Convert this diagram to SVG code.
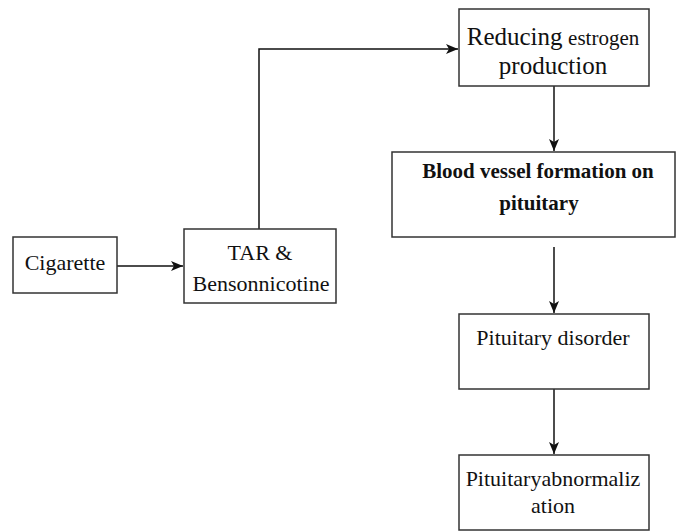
<svg xmlns="http://www.w3.org/2000/svg" width="676" height="532" viewBox="0 0 676 532">
<style>
.box{fill:#fff;stroke:#333;stroke-width:1.5}
.t{font-family:'Liberation Serif','Times New Roman',serif;font-size:22px;fill:#111;text-anchor:middle}
.b{font-weight:bold;font-size:21px}
.c{fill:none;stroke:#111;stroke-width:1.5}
</style>
<defs>
<marker id="ah" viewBox="0 0 12 10" refX="12" refY="5" markerWidth="12" markerHeight="10" markerUnits="userSpaceOnUse" orient="auto">
<path d="M0,0 L12,5 L0,10 L3,5 Z" fill="#111"/>
</marker>
</defs>
<rect width="676" height="532" fill="#fff"/>
<g id="connectors">
<line class="c" x1="117" y1="266" x2="183" y2="266" marker-end="url(#ah)"/>
<polyline class="c" points="259,229 259,49 458,49" marker-end="url(#ah)"/>
<line class="c" x1="554" y1="86" x2="554" y2="151" marker-end="url(#ah)"/>
<line class="c" x1="554" y1="247" x2="554" y2="313" marker-end="url(#ah)"/>
<line class="c" x1="554" y1="389" x2="554" y2="454" marker-end="url(#ah)"/>
</g>
<g id="cigarette">
<rect class="box" x="13" y="237" width="104" height="56"/>
<text class="t" x="65" y="270">Cigarette</text>
</g>
<g id="tar">
<rect class="box" x="184" y="229" width="152" height="74"/>
<text class="t" x="260" y="260">TAR &amp;</text>
<text class="t" x="261" y="291">Bensonnicotine</text>
</g>
<g id="reducing">
<rect class="box" x="459" y="9" width="190" height="77"/>
<text class="t" x="553" y="45"><tspan style="font-size:25px">Reducing</tspan> <tspan style="font-size:21px">estrogen</tspan></text>
<text class="t" x="553" y="74" style="font-size:25px">production</text>
</g>
<g id="blood">
<rect class="box" x="392" y="152" width="283" height="85"/>
<text class="t b" x="538" y="178">Blood vessel formation on</text>
<text class="t b" x="539" y="210">pituitary</text>
</g>
<g id="disorder">
<rect class="box" x="459" y="314" width="190" height="75"/>
<text class="t" x="553" y="345">Pituitary disorder</text>
</g>
<g id="abnormal">
<rect class="box" x="459" y="455" width="190" height="75"/>
<text class="t" x="553" y="486">Pituitaryabnormaliz</text>
<text class="t" x="553" y="513">ation</text>
</g>
</svg>
